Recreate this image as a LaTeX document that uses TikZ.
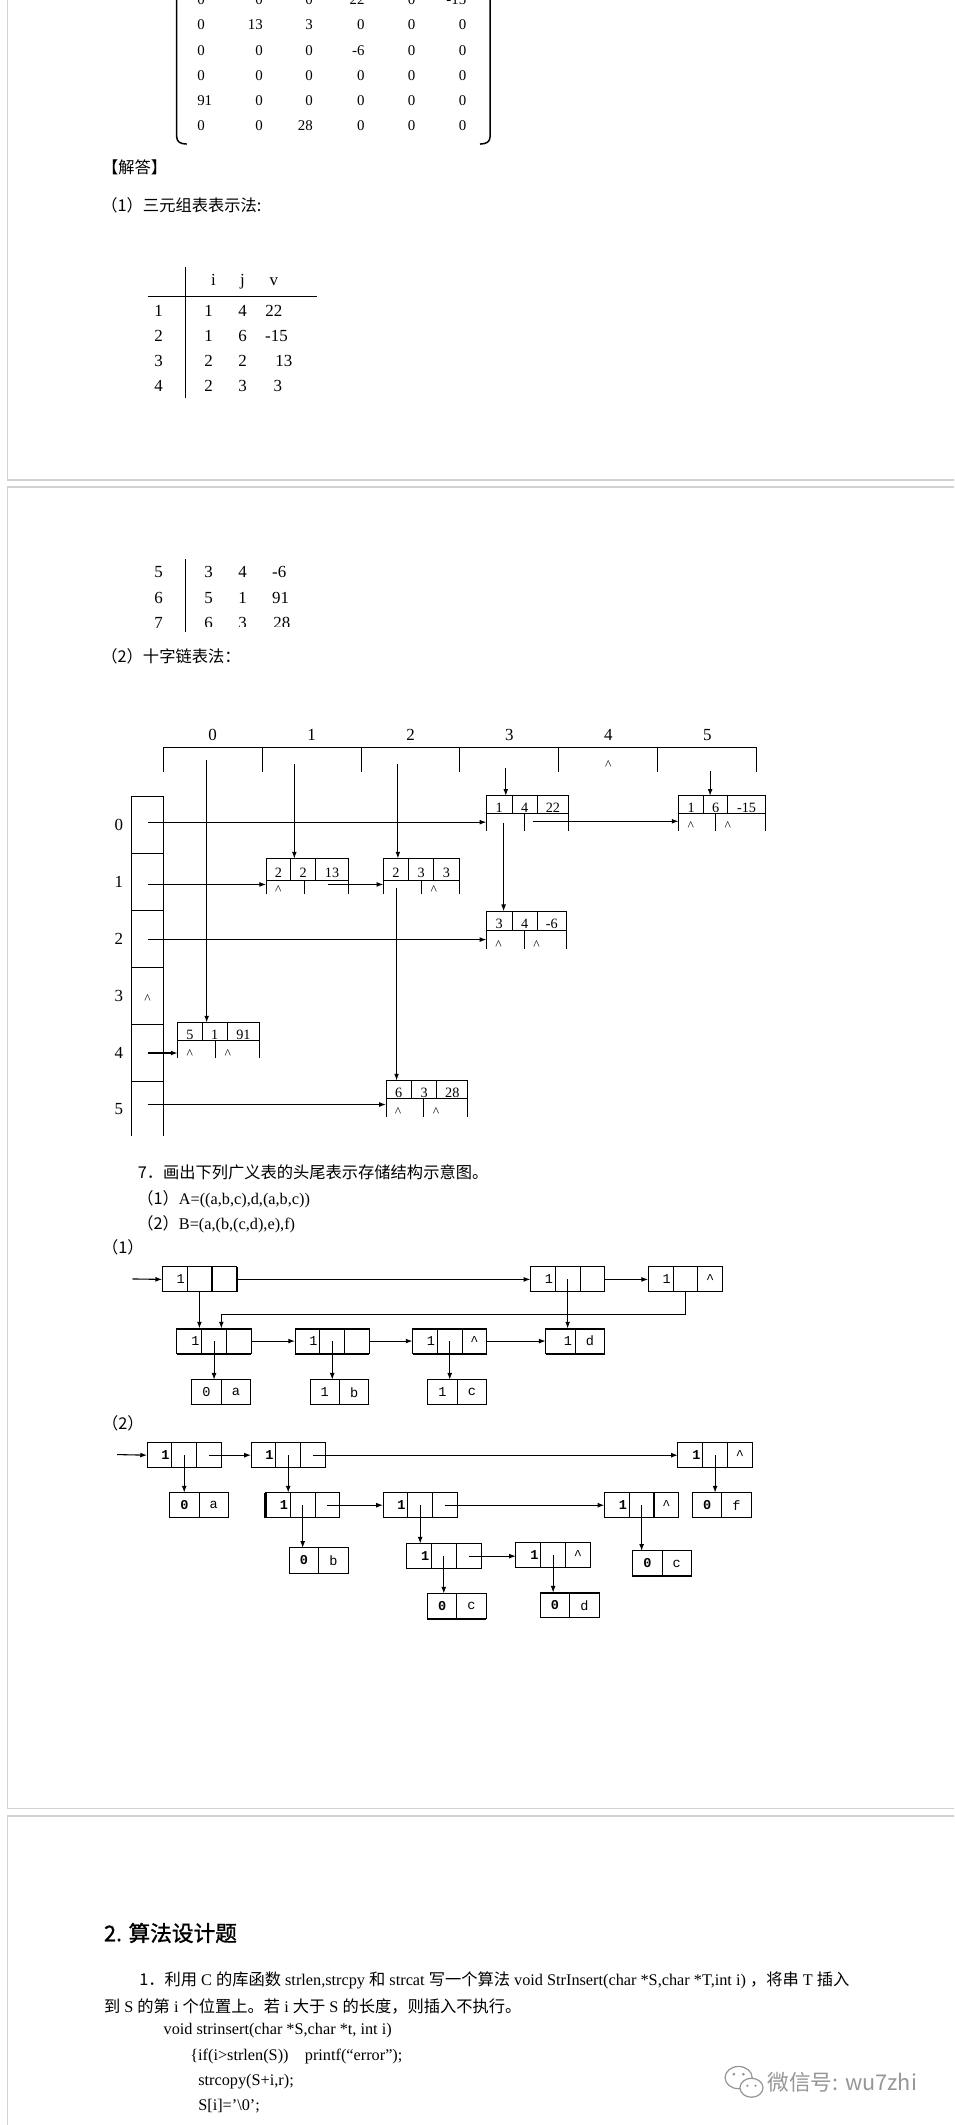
\documentclass[tikz,border=0pt]{standalone}
\usepackage{fontspec}
\setmainfont{Liberation Serif}
\newfontfamily\cjk{Noto Sans CJK SC}
\newfontfamily\cjkhead[FakeBold=1.2]{Noto Sans CJK SC}
\newfontfamily\boxmono{Liberation Mono}
\usetikzlibrary{positioning,arrows.meta}
\definecolor{Pline}{RGB}{210,210,210}
\definecolor{Wgray}{RGB}{150,150,150}

\begin{document}
\begin{tikzpicture}[x=1pt,y=1pt,line width=0.7pt,
  pageline/.style={Pline,line width=1.3pt},
  paren/.style={line width=1.1pt},
  mnum/.style={inner sep=0pt,font=\fontsize{11}{12}\selectfont},
  tnum/.style={inner sep=0pt,anchor=base,font=\fontsize{12.5}{14}\selectfont},
  txt/.style={inner sep=0pt,anchor=west,font=\fontsize{12}{14}\selectfont},
  lbl/.style={inner sep=0pt,font=\fontsize{12.5}{14}\selectfont},
  arr/.style={line width=0.8pt,-{Latex[length=5pt,width=3.6pt]}},
  xtop/.style={draw,inner sep=0pt,outer sep=0pt,anchor=north west,text height=12pt,text depth=0pt,font=\fontsize{10.5}{11}\selectfont},
  xbot/.style={inner sep=0pt,outer sep=0pt,anchor=north west,append after command={(\tikzlastnode.north west) edge (\tikzlastnode.south west) (\tikzlastnode.north east) edge (\tikzlastnode.south east)}},
  hcell/.style={inner sep=0pt,outer sep=0pt,anchor=north west,minimum width=73pt,minimum height=18pt,append after command={(\tikzlastnode.south west) edge (\tikzlastnode.north west) (\tikzlastnode.north west) edge (\tikzlastnode.north east) (\tikzlastnode.north east) edge (\tikzlastnode.south east)}},
  rcell/.style={draw,inner sep=0pt,outer sep=0pt,anchor=north west,minimum width=23.4pt,minimum height=42pt},
  hat/.style={inner sep=0pt,anchor=base,font=\fontsize{10}{11}\selectfont},
  gcell/.style={draw,inner sep=0pt,outer sep=0pt,anchor=north west,minimum width=18.3pt,minimum height=18.5pt,font=\boxmono\fontsize{10}{11}\selectfont},
  gfirst/.style={gcell,text width=15pt,align=right},
  acell/.style={gcell,minimum width=21.7pt},
  afirst/.style={acell,text width=17pt,align=right},
  thickline/.style={line width=1.5pt}]
\path[use as bounding box] (0,0) rectangle (704,-1568);
\clip (0,0) rectangle (704,-1568);

% page frames
\draw[pageline] (5.5,2) -- (5.5,-354) -- (706,-354);
\draw[pageline] (706,-359.5) -- (5.5,-359.5) -- (5.5,-1334.5) -- (706,-1334.5);
\draw[pageline] (706,-1340) -- (5.5,-1340) -- (5.5,-1570);

% matrix
\draw[paren] (130.4,2) -- (130.4,-101) .. controls (130.4,-104.5) and (133,-106.3) .. (137.8,-106.3);
\draw[paren] (361.6,2) -- (361.6,-101) .. controls (361.6,-104.5) and (359,-106.3) .. (354.2,-106.3);
\node[mnum,anchor=west] (m11) at (145.2,0) {0};
\node[mnum,anchor=east] (m12) at (194.3,0) {0};
\node[mnum,anchor=east] (m13) at (231.2,0) {0};
\node[mnum,anchor=east] (m14) at (269.4,0) {22};
\node[mnum,anchor=east] (m15) at (306.8,0) {0};
\node[mnum,anchor=east] (m16) at (344.4,0) {-15};
\node[mnum,anchor=west] (m21) at (145.2,-18.5) {0};
\node[mnum,anchor=east] (m22) at (194.3,-18.5) {13};
\node[mnum,anchor=east] (m23) at (231.2,-18.5) {3};
\node[mnum,anchor=east] (m24) at (269.4,-18.5) {0};
\node[mnum,anchor=east] (m25) at (306.8,-18.5) {0};
\node[mnum,anchor=east] (m26) at (344.4,-18.5) {0};
\node[mnum,anchor=west] (m31) at (145.2,-37.4) {0};
\node[mnum,anchor=east] (m32) at (194.3,-37.4) {0};
\node[mnum,anchor=east] (m33) at (231.2,-37.4) {0};
\node[mnum,anchor=east] (m34) at (269.4,-37.4) {-6};
\node[mnum,anchor=east] (m35) at (306.8,-37.4) {0};
\node[mnum,anchor=east] (m36) at (344.4,-37.4) {0};
\node[mnum,anchor=west] (m41) at (145.2,-55.8) {0};
\node[mnum,anchor=east] (m42) at (194.3,-55.8) {0};
\node[mnum,anchor=east] (m43) at (231.2,-55.8) {0};
\node[mnum,anchor=east] (m44) at (269.4,-55.8) {0};
\node[mnum,anchor=east] (m45) at (306.8,-55.8) {0};
\node[mnum,anchor=east] (m46) at (344.4,-55.8) {0};
\node[mnum,anchor=west] (m51) at (145.2,-74.3) {91};
\node[mnum,anchor=east] (m52) at (194.3,-74.3) {0};
\node[mnum,anchor=east] (m53) at (231.2,-74.3) {0};
\node[mnum,anchor=east] (m54) at (269.4,-74.3) {0};
\node[mnum,anchor=east] (m55) at (306.8,-74.3) {0};
\node[mnum,anchor=east] (m56) at (344.4,-74.3) {0};
\node[mnum,anchor=west] (m61) at (145.2,-93) {0};
\node[mnum,anchor=east] (m62) at (194.3,-93) {0};
\node[mnum,anchor=east] (m63) at (231.2,-93) {28};
\node[mnum,anchor=east] (m64) at (269.4,-93) {0};
\node[mnum,anchor=east] (m65) at (306.8,-93) {0};
\node[mnum,anchor=east] (m66) at (344.4,-93) {0};

\node[txt] (ans) at (75,-123.5) {\cjk 【解答】};
\node[txt] (sub1) at (74.5,-151.5) {\cjk （1）三元组表表示法:};

% triple table
\draw (137,-197) -- (137,-293.5);
\draw (109,-219) -- (234,-219);
\node[tnum] (ti) at (157.5,-211) {i};
\node[tnum] (tj) at (179,-211) {j};
\node[tnum] (tv) at (202,-211) {v};
\node[tnum] (r1) at (117,-233.2) {1};
\node[tnum] (r1i) at (154,-233.2) {1};
\node[tnum] (r1j) at (179,-233.2) {4};
\node[tnum] (r1v) at (202,-233.2) {22};
\node[tnum] (r2) at (117,-252.2) {2};
\node[tnum] (r2i) at (154,-252.2) {1};
\node[tnum] (r2j) at (179,-252.2) {6};
\node[tnum] (r2v) at (204,-252.2) {-15};
\node[tnum] (r3) at (117,-270.2) {3};
\node[tnum] (r3i) at (154,-270.2) {2};
\node[tnum] (r3j) at (179,-270.2) {2};
\node[tnum] (r3v) at (209.5,-270.2) {13};
\node[tnum] (r4) at (117,-289.2) {4};
\node[tnum] (r4i) at (154,-289.2) {2};
\node[tnum] (r4j) at (179,-289.2) {3};
\node[tnum] (r4v) at (205,-289.2) {3};

% table continued on page 2
\draw (137,-412.5) -- (137,-466);
\node[tnum] (r5) at (117,-426.2) {5};
\node[tnum] (r5i) at (154,-426.2) {3};
\node[tnum] (r5j) at (179,-426.2) {4};
\node[tnum] (r5v) at (206,-426.2) {-6};
\node[tnum] (r6) at (117,-445.2) {6};
\node[tnum] (r6i) at (154,-445.2) {5};
\node[tnum] (r6j) at (179,-445.2) {1};
\node[tnum] (r6v) at (207,-445.2) {91};
\node[tnum] (r7) at (117,-463.7) {7};
\begin{scope}
\clip (140,-440) rectangle (240,-462.5);
\node[tnum] (r7i) at (154,-463.7) {6};
\node[tnum] (r7j) at (179,-463.7) {3};
\node[tnum] (r7v) at (208,-463.7) {28};
\end{scope}

\node[txt] (sub2) at (74.5,-484.6) {\cjk （2）十字链表法：};

% column heads
\node[hcell] (c0) at (120.4,-551.5) {};
\node[hcell] (c1) at (c0.north east) {};
\node[hcell] (c2) at (c1.north east) {};
\node[hcell] (c3) at (c2.north east) {};
\node[hcell] (c4) at (c3.north east) {};
\node[hcell] (c5) at (c4.north east) {};
\node[lbl,above=4.5pt of c0] (l0) {0};
\node[lbl,above=4.5pt of c1] (l1) {1};
\node[lbl,above=4.5pt of c2] (l2) {2};
\node[lbl,above=4.5pt of c3] (l3) {3};
\node[lbl,above=4.5pt of c4] (l4) {4};
\node[lbl,above=4.5pt of c5] (l5) {5};
\node[hat] (k4) at ([yshift=-7pt]c4.center) {\textasciicircum};

% row heads
\node[rcell] (h0) at (97.2,-588) {};
\node[rcell] (h1) at (h0.south west) {};
\node[rcell] (h2) at (h1.south west) {};
\node[rcell] (h3) at (h2.south west) {};
\node[rcell] (h4) at (h3.south west) {};
\node[xbot,minimum width=23.4pt,minimum height=40pt] (h5) at (h4.south west) {};
\node[lbl,left=6pt of h0] (q0) {0};
\node[lbl,left=6pt of h1] (q1) {1};
\node[lbl,left=6pt of h2] (q2) {2};
\node[lbl,left=6pt of h3] (q3) {3};
\node[lbl,left=6pt of h4] (q4) {4};
\node[lbl,left=6pt of h5] (q5) {5};
\node[hat] (k3) at ([yshift=-5.2pt]h3.center) {\textasciicircum};

% element 1 4 22
\node[xtop,minimum width=18.9pt,minimum height=13.1pt] (n14a) at (358.9,-587.2) {1};
\node[xtop,minimum width=18.8pt,minimum height=13.1pt] (n14b) at (n14a.north east) {4};
\node[xtop,minimum width=22.8pt,minimum height=13.1pt] (n14c) at (n14b.north east) {22};
\node[xbot,minimum width=28pt,minimum height=12.7pt] (n14d) at (n14a.south west) {};
\node[xbot,minimum width=32.5pt,minimum height=12.7pt] (n14e) at (n14d.north east) {};
% element 1 6 -15
\node[xtop,minimum width=18.5pt,minimum height=13.1pt] (n16a) at (500.7,-587.2) {1};
\node[xtop,minimum width=17.9pt,minimum height=13.1pt] (n16b) at (n16a.north east) {6};
\node[xtop,minimum width=27.6pt,minimum height=13.1pt] (n16c) at (n16b.north east) {-15};
\node[xbot,minimum width=27.3pt,minimum height=12.7pt] (n16d) at (n16a.south west) {};
\node[xbot,minimum width=36.7pt,minimum height=12.7pt] (n16e) at (n16d.north east) {};
\node[hat] (k16d) at ([xshift=9pt]n16d.south west) {\textasciicircum};
\node[hat] (k16e) at ([xshift=9pt]n16e.south west) {\textasciicircum};
% element 2 2 13
\node[xtop,minimum width=18.1pt,minimum height=16pt] (n22a) at (196.4,-633.5) {2};
\node[xtop,minimum width=18.6pt,minimum height=16pt] (n22b) at (n22a.north east) {2};
\node[xtop,minimum width=23.8pt,minimum height=16pt] (n22c) at (n22b.north east) {13};
\node[xbot,minimum width=28.6pt,minimum height=10.3pt] (n22d) at (n22a.south west) {};
\node[xbot,minimum width=31.9pt,minimum height=10.3pt] (n22e) at (n22d.north east) {};
\node[hat] (k22d) at ([xshift=9pt]n22d.south west) {\textasciicircum};
% element 2 3 3
\node[xtop,minimum width=18.5pt,minimum height=16pt] (n23a) at (282.9,-633.5) {2};
\node[xtop,minimum width=18.8pt,minimum height=16pt] (n23b) at (n23a.north east) {3};
\node[xtop,minimum width=18.6pt,minimum height=16pt] (n23c) at (n23b.north east) {3};
\node[xbot,minimum width=28.2pt,minimum height=10.3pt] (n23d) at (n23a.south west) {};
\node[xbot,minimum width=27.7pt,minimum height=10.3pt] (n23e) at (n23d.north east) {};
\node[hat] (k23e) at ([xshift=9pt]n23e.south west) {\textasciicircum};
% element 3 4 -6
\node[xtop,minimum width=18.9pt,minimum height=13.9pt] (n34a) at (358.9,-672.4) {3};
\node[xtop,minimum width=18.8pt,minimum height=13.9pt] (n34b) at (n34a.north east) {4};
\node[xtop,minimum width=21.1pt,minimum height=13.9pt] (n34c) at (n34b.north east) {-6};
\node[xbot,minimum width=28pt,minimum height=14pt] (n34d) at (n34a.south west) {};
\node[xbot,minimum width=30.8pt,minimum height=14pt] (n34e) at (n34d.north east) {};
\node[hat] (k34d) at ([xshift=9pt]n34d.south west) {\textasciicircum};
\node[hat] (k34e) at ([xshift=9pt]n34e.south west) {\textasciicircum};
% element 5 1 91
\node[xtop,minimum width=18.2pt,minimum height=13.3pt] (n51a) at (131,-754.5) {5};
\node[xtop,minimum width=18.5pt,minimum height=13.3pt] (n51b) at (n51a.north east) {1};
\node[xtop,minimum width=23.8pt,minimum height=13.3pt] (n51c) at (n51b.north east) {91};
\node[xbot,minimum width=28pt,minimum height=13.2pt] (n51d) at (n51a.south west) {};
\node[xbot,minimum width=32.5pt,minimum height=13.2pt] (n51e) at (n51d.north east) {};
\node[hat] (k51d) at ([xshift=9pt]n51d.south west) {\textasciicircum};
\node[hat] (k51e) at ([xshift=9pt]n51e.south west) {\textasciicircum};
% element 6 3 28
\node[xtop,minimum width=18.9pt,minimum height=13.3pt] (n63a) at (284.8,-797.3) {6};
\node[xtop,minimum width=18.5pt,minimum height=13.3pt] (n63b) at (n63a.north east) {3};
\node[xtop,minimum width=23.1pt,minimum height=13.3pt] (n63c) at (n63b.north east) {28};
\node[xbot,minimum width=28pt,minimum height=13.5pt] (n63d) at (n63a.south west) {};
\node[xbot,minimum width=32.5pt,minimum height=13.5pt] (n63e) at (n63d.north east) {};
\node[hat] (k63d) at ([xshift=9pt]n63d.south west) {\textasciicircum};
\node[hat] (k63e) at ([xshift=9pt]n63e.south west) {\textasciicircum};

% pointers
\coordinate (p0) at (152.5,-561);
\coordinate (p1) at (217.2,-563.8);
\coordinate (p2) at (293.6,-563.8);
\coordinate (p3) at (373.2,-566.5);
\coordinate (p5) at (524,-569);
\coordinate (q14) at (371.6,-607);
\coordinate (q23) at (292.6,-655.6);
\coordinate (s14) at (393,-606);
\coordinate (s22) at (241.9,-652.6);
\draw[arr] (p0) -- (p0 |- n51a.north);
\draw[arr] (p1) -- (p1 |- n22a.north);
\draw[arr] (p2) -- (p2 |- n23a.north);
\draw[arr] (p3) -- (p3 |- n14a.north);
\draw[arr] (p5) -- (p5 |- n16a.north);
\draw[arr] (q14) -- (q14 |- n34a.north);
\draw[arr] (q23) -- (q23 |- n63a.north);
\draw[arr] (s14) -- (s14 -| n16d.west);
\draw[arr] (s22) -- (s22 -| n23d.west);
\draw[arr] (h0.center |- n14d.west) -- (n14d.west);
\draw[arr] (h1.center |- s22) -- (s22 -| n22d.west);
\draw[arr] (h2.center |- n34d.west) -- (n34d.west);
\draw[arr] (h4.center) -- (h4.center -| n51d.west);
\draw[arr] ([yshift=3pt]h5.center) -- ([yshift=3pt]h5.center -| n63d.west);

% question 7
\node[txt] (q7) at (101.3,-865) {\cjk 7．画出下列广义表的头尾表示存储结构示意图。};
\node[txt] (q7a) at (101,-885) {{\cjk （1）}A=((a,b,c),d,(a,b,c))};
\node[txt] (q7b) at (101,-903) {{\cjk （2）}B=(a,(b,(c,d),e),f)};
\node[txt] (s7a) at (75,-920) {\cjk （1）};

% list A
\coordinate (in1) at (97.7,-943.7);
\node[gfirst] (a1a) at (119.7,-934.8) {1};
\node[gcell] (a1b) at (a1a.north east) {};
\node[gcell] (a1c) at (a1b.north east) {};
\node[gfirst] (a2a) at (391.4,-934.8) {1};
\node[gcell] (a2b) at (a2a.north east) {};
\node[gcell] (a2c) at (a2b.north east) {};
\node[gfirst] (a3a) at (478.3,-934.8) {1};
\node[gcell] (a3b) at (a3a.north east) {};
\node[gcell] (a3c) at (a3b.north east) {\textasciicircum};
\node[gfirst] (b1a) at (130.5,-980.3) {1};
\node[gcell] (b1b) at (b1a.north east) {};
\node[gcell] (b1c) at (b1b.north east) {};
\node[gfirst] (b2a) at (217.7,-980.3) {1};
\node[gcell] (b2b) at (b2a.north east) {};
\node[gcell] (b2c) at (b2b.north east) {};
\node[gfirst] (b3a) at (304.4,-980.3) {1};
\node[gcell] (b3b) at (b3a.north east) {};
\node[gcell] (b3c) at (b3b.north east) {\textasciicircum};
\node[afirst] (dna) at (402.7,-980.3) {1};
\node[acell] (dnb) at (dna.north east) {d};
\node[acell] (at1a) at (141.5,-1018.1) {0};
\node[acell] (at1b) at (at1a.north east) {a};
\node[acell] (at2a) at (228.8,-1018.1) {1};
\node[acell] (at2b) at (at2a.north east) {b};
\node[acell] (at3a) at (315.7,-1018.1) {1};
\node[acell] (at3b) at (at3a.north east) {c};
\draw[thickline] (b1a.north west) -- (b1c.north east) (b1a.south west) -- (b1c.south east);
\draw[thickline] (b2a.north west) -- (b2c.north east) (b2a.south west) -- (b2c.south east);
\draw[thickline] (b3a.north west) -- (b3c.north east) (b3a.south west) -- (b3c.south east);
\draw[thickline] (dna.north west) -- (dnb.north east) (dna.south west) -- (dnb.south east);
\draw[thickline] (a1c.north west) -- (a1c.south west) (a1c.north east) -- (a1c.south east);
\coordinate (bend) at (163.3,-969.8);
\draw[arr] (in1) -- (a1a.west);
\draw[arr] (a1c.east) -- (a2a.west);
\draw[arr] (a2c.east) -- (a3a.west);
\draw[arr] (a1b.south) -- (a1b.south |- b1a.north);
\draw[arr] (a2b.center) -- (a2b.center |- dna.north);
\draw[arr] (a3b.south) |- (bend) -- (bend |- b1b.north);
\draw[arr] (b1b.center) -- (b1b.center |- at1a.north);
\draw[arr] (b1c.east) -- (b2a.west);
\draw[arr] (b2b.center) -- (b2b.center |- at2a.north);
\draw[arr] (b2c.east) -- (b3a.west);
\draw[arr] (b3b.center) -- (b3b.center |- at3a.north);
\draw[arr] (b3c.east) -- (dna.west);

% list B
\node[txt] (s7b) at (75,-1050.4) {\cjk （2）};
\coordinate (in2) at (86.4,-1073.3);
\node[gfirst] (c1a) at (108.5,-1064.5) {\bfseries 1};
\node[gcell] (c1b) at (c1a.north east) {};
\node[gcell] (c1c) at (c1b.north east) {};
\node[gfirst] (c2a) at (185.2,-1064.5) {\bfseries 1};
\node[gcell] (c2b) at (c2a.north east) {};
\node[gcell] (c2c) at (c2b.north east) {};
\node[gfirst] (c3a) at (500.2,-1064.5) {\bfseries 1};
\node[gcell] (c3b) at (c3a.north east) {};
\node[gcell] (c3c) at (c3b.north east) {\textasciicircum};
\node[acell] (uc1a) at (125.2,-1101.4) {\bfseries 0};
\node[acell] (uc1b) at (uc1a.north east) {a};
\node[acell] (uc3a) at (510.9,-1101.4) {\bfseries 0};
\node[acell] (uc3b) at (uc3a.north east) {f};
\node[gfirst] (e1a) at (195.9,-1101.4) {\bfseries 1};
\node[gcell] (e1b) at (e1a.north east) {};
\node[gcell] (e1c) at (e1b.north east) {};
\node[gfirst] (e2a) at (282.6,-1101.4) {\bfseries 1};
\node[gcell] (e2b) at (e2a.north east) {};
\node[gcell] (e2c) at (e2b.north east) {};
\node[gfirst] (e3a) at (446,-1101.4) {\bfseries 1};
\node[gcell] (e3b) at (e3a.north east) {};
\node[gcell] (e3c) at (e3b.north east) {\textasciicircum};
\node[acell] (ue1a) at (213.5,-1142.2) {\bfseries 0};
\node[acell] (ue1b) at (ue1a.north east) {b};
\node[acell] (ue3a) at (466.8,-1144.4) {\bfseries 0};
\node[acell] (ue3b) at (ue3a.north east) {c};
\node[gfirst] (f1a) at (300,-1139) {\bfseries 1};
\node[gcell] (f1b) at (f1a.north east) {};
\node[gcell] (f1c) at (f1b.north east) {};
\node[gfirst] (f2a) at (380.7,-1138.3) {\bfseries 1};
\node[gcell] (f2b) at (f2a.north east) {};
\node[gcell] (f2c) at (f2b.north east) {\textasciicircum};
\node[acell] (uf1a) at (315.4,-1175.9) {\bfseries 0};
\node[acell] (uf1b) at (uf1a.north east) {c};
\node[acell] (uf2a) at (398.7,-1175.2) {\bfseries 0};
\node[acell] (uf2b) at (uf2a.north east) {d};
\draw[thickline] (e1a.north west) -- (e1a.south west);
\draw[thickline] (e3b.north east) -- (e3b.south east);
\draw[thickline] (ue3a.south west) -- (ue3b.south east);
\draw[thickline] (uf1a.south west) -- (uf1b.south east);
\draw[thickline] (uf2a.north west) -- (uf2b.north east);
\draw[arr] (in2) -- (c1a.west);
\draw[arr] (c1b.center) -- (c1b.center |- uc1a.north);
\draw[arr] (c1c.center) -- (c1c.center -| c2a.west);
\draw[arr] (c2b.center) -- (c2b.center |- e1a.north);
\draw[arr] (c2c.center) -- (c2c.center -| c3a.west);
\draw[arr] (c3b.center) -- (c3b.center |- uc3a.north);
\draw[arr] (e1b.center) -- (e1b.center |- ue1a.north);
\draw[arr] (e1c.center) -- (e1c.center -| e2a.west);
\draw[arr] (e2b.center) -- (e2b.center |- f1a.north);
\draw[arr] (e2c.center) -- (e2c.center -| e3a.west);
\draw[arr] (e3b.center) -- (e3b.center |- ue3a.north);
\draw[arr] (f1b.center) -- (f1b.center |- uf1a.north);
\draw[arr] (f1c.center) -- (f1c.center -| f2a.west);
\draw[arr] (f2b.center) -- (f2b.center |- uf2a.north);

% page 3
\node[txt,font=\fontsize{16}{18}\selectfont] (sec2) at (76.4,-1426.3) {\cjkhead 2. 算法设计题};
\node[txt] (p1l1) at (102.4,-1461.3) {{\cjk 1．利用} C {\cjk 的库函数} strlen,strcpy {\cjk 和} strcat {\cjk 写一个算法} void StrInsert(char *S,char *T,int i) {\cjk ，将串} T {\cjk 插入}};
\node[txt] (p1l2) at (76.4,-1480.4) {{\cjk 到} S {\cjk 的第} i {\cjk 个位置上。若} i {\cjk 大于} S {\cjk 的长度，则插入不执行。}};
\node[txt] (code1) at (120.4,-1498.2) {void strinsert(char *S,char *t, int i)};
\node[txt] (code2) at (140.1,-1517.3) {\{if(i>strlen(S))\quad printf(“error”);};
\node[txt] (code3) at (146,-1536.3) {strcopy(S+i,r);};
\node[txt] (code4) at (146,-1554.3) {S[i]='\textbackslash 0';};

% watermark
\draw[Wgray,line width=0.9pt] (545,-1533) ellipse (10 and 8.2);
\draw[Wgray,line width=0.9pt,fill=white] (554.5,-1540.5) ellipse (8.5 and 7);
\fill[Wgray] (541.5,-1530.5) circle (1.1) (548.5,-1530.5) circle (1.1) (551.5,-1539) circle (0.9) (557.5,-1539) circle (0.9);
\node[txt,font=\fontsize{16}{18}\selectfont,text=Wgray] (wm) at (566,-1536.3) {\cjk 微信号: wu7zhi};
\end{tikzpicture}
\end{document}
